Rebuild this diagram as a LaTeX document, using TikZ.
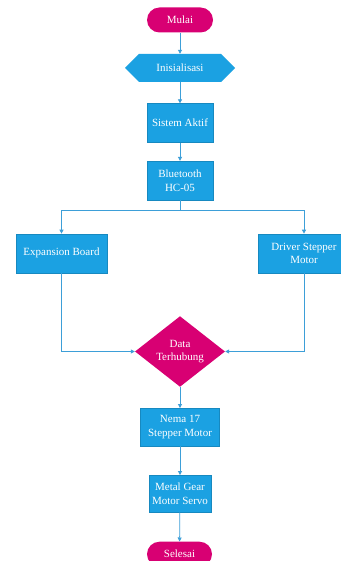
\documentclass[tikz,border=0pt]{standalone}
\usepackage{fontspec}
\setmainfont{Liberation Serif}
\usetikzlibrary{shapes.geometric,arrows.meta}
\definecolor{mblue}{HTML}{1BA1E2}
\definecolor{mpink}{HTML}{D80073}
\definecolor{mline}{HTML}{3D9FD8}
\begin{document}
\begin{tikzpicture}[x=1pt,y=-1pt,
  txt/.style={text=white,font=\fontsize{11}{13.5}\selectfont,align=center,inner sep=0pt},
  procbox/.style={txt,rectangle,fill=mblue,draw=mblue!85!black,line width=0.3pt},
  termbox/.style={txt,rectangle,fill=mpink,rounded corners=12.5pt,minimum height=25pt,minimum width=66pt},
  conn/.style={draw=mline,line width=0.8pt,-{Triangle[length=4pt,width=4pt]}},
  plain/.style={draw=mline,line width=0.8pt}]
\useasboundingbox[fill=white] (0,0) rectangle (340,561);
\node[termbox] (mulai) at (180,20) {Mulai};
\node[txt,minimum width=110pt,minimum height=28pt,
  path picture={\fill[mblue] (path picture bounding box.west) -- ([xshift=14pt]path picture bounding box.north west) -- ([xshift=-14pt]path picture bounding box.north east) -- (path picture bounding box.east) -- ([xshift=-14pt]path picture bounding box.south east) -- ([xshift=14pt]path picture bounding box.south west) -- cycle;}] (ini) at (180,68) {Inisialisasi};
\node[procbox,minimum width=66pt,minimum height=39pt] (aktif) at (180,123) {Sistem Aktif};
\node[procbox,minimum width=66pt,minimum height=39pt] (bt) at (180,180.5) {Bluetooth\\HC-05};
\node[procbox,minimum width=91pt,minimum height=39pt] (exp) at (61.5,253.3) {Expansion Board};
\node[procbox,minimum width=92pt,minimum height=39pt] (drv) at (304,253.3) {Driver Stepper\\Motor};
\node[txt,diamond,fill=mpink,minimum width=90pt,minimum height=58pt] (data) at (180,351.5) {Data\\Terhubung};
\node[procbox,minimum width=79pt,minimum height=38pt] (nema) at (180,427.2) {Nema 17\\Stepper Motor};
\node[procbox,minimum width=62pt,minimum height=37pt] (servo) at (180,493.7) {Metal Gear\\Motor Servo};
\node[termbox,minimum width=65pt] (selesai) at (179.5,554.2) {Selesai};
\coordinate (split) at (180,210);
\draw[conn] (mulai) -- (ini);
\draw[conn] (ini) -- (aktif);
\draw[conn] (aktif) -- (bt);
\draw[plain] (bt.south) -- (split);
\draw[conn] (split) -| (exp.north);
\draw[conn] (split) -| (drv.north);
\draw[conn] (exp.south) |- (data.west);
\draw[conn] (drv.south) |- (data.east);
\draw[conn] (data) -- (nema);
\draw[conn] (nema) -- (servo);
\draw[conn] (servo) -- (selesai);
\end{tikzpicture}
\end{document}
